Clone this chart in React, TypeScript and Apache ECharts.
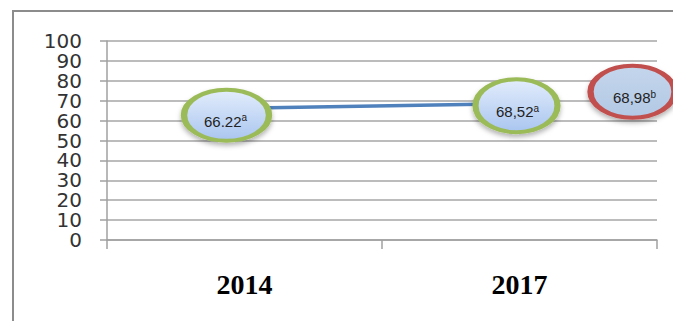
import React, { useEffect, useRef } from "react";
import * as echarts from "echarts";

// ---- data ----
const categories = ["2014", "2017"];
const values = [66.22, 68.52];
const valueTexts = ["66.22", "68,52"];
const valueLetters = ["a", "a"];
const extraCategory = "2017";
const extraValue = 68.98;
const extraText = "68,98";
const extraLetter = "b";
const yMin = 0;
const yMax = 100;
const yInterval = 10;

// ---- styling / layout ----
const ELLIPSE = "path://M0,50A50,50,0,1,1,100,50A50,50,0,1,1,0,50Z";
const SYMBOL_SIZES: [number, number][] = [
  [85, 51],
  [82, 53],
];
const SYMBOL_OFFSETS: [number, number][] = [
  [-18, 7],
  [-3, 2],
];
const LABEL_OFFSETS: [number, number][] = [
  [-1, 6],
  [1, 6],
];
const EXTRA_SIZE: [number, number] = [84, 52];
const EXTRA_OFFSET: [number, number] = [113, -11];
const EXTRA_LABEL_OFFSET: [number, number] = [2, 6];

const fillGradient = () =>
  new echarts.graphic.LinearGradient(0, 0, 0, 1, [
    { offset: 0, color: "#e3edfc" },
    { offset: 1, color: "#a9c5ef" },
  ]);

const redFill = () =>
  new echarts.graphic.LinearGradient(0, 0, 0, 1, [
    { offset: 0, color: "#c4d6ec" },
    { offset: 1, color: "#b2c8e4" },
  ]);

const rich = {
  v: {
    fontSize: 15,
    fontFamily: "Liberation Sans",
    color: "#222",
    lineHeight: 17,
  },
  s: {
    fontSize: 10,
    fontFamily: "Liberation Sans",
    color: "#222",
    verticalAlign: "top" as const,
  },
};

export default function App() {
  const ref = useRef<HTMLDivElement>(null);
  useEffect(() => {
    if (!ref.current) return;
    const chart = echarts.init(ref.current, undefined, { renderer: "svg" });
    chart.setOption({
      animation: false,
      backgroundColor: "#ffffff",
      grid: { left: 107, right: 16, top: 41, bottom: 81, containLabel: false },
      xAxis: {
        type: "category",
        data: categories,
        boundaryGap: true,
        axisLine: { show: true, lineStyle: { color: "#a0a0a0", width: 1.5 } },
        axisTick: { show: true, length: 9, lineStyle: { color: "#a0a0a0", width: 1.5 } },
        axisLabel: {
          fontFamily: "Liberation Serif",
          fontWeight: "bold",
          fontSize: 28,
          color: "#000",
          margin: 30,
        },
        splitLine: { show: false },
      },
      yAxis: {
        type: "value",
        min: yMin,
        max: yMax,
        interval: yInterval,
        axisLine: { show: true, lineStyle: { color: "#a0a0a0", width: 1.5 } },
        axisTick: { show: true, length: 7, lineStyle: { color: "#a0a0a0", width: 1.5 } },
        axisLabel: {
          fontFamily: "DejaVu Sans",
          fontSize: 20,
          lineHeight: 18,
          color: "#333",
          margin: 25,
        },
        splitLine: { show: true, lineStyle: { color: "#a6a6a6", width: 1.5 } },
      },
      graphic: [
        {
          type: "polyline",
          shape: { points: [[13, 321], [13, 11], [673, 11]] },
          style: { stroke: "#8c8c8c", lineWidth: 2, fill: "none" },
          silent: true,
        },
      ],
      series: [
        {
          type: "line",
          symbol: ELLIPSE,
          lineStyle: { color: "#4f81bd", width: 3.5 },
          itemStyle: {
            color: fillGradient(),
            borderColor: "#9bbb59",
            borderWidth: 5,
            shadowBlur: 5,
            shadowOffsetY: 3,
            shadowColor: "rgba(0,0,0,0.3)",
          },
          data: values.map((v, i) => ({
            value: v,
            symbolSize: SYMBOL_SIZES[i],
            symbolOffset: SYMBOL_OFFSETS[i],
            label: {
              show: true,
              position: "inside",
              offset: LABEL_OFFSETS[i],
              formatter: `{v|${valueTexts[i]}}{s|${valueLetters[i]}}`,
              rich,
            },
          })),
          emphasis: { disabled: true },
          markPoint: {
            symbol: ELLIPSE,
            symbolSize: EXTRA_SIZE,
            symbolOffset: EXTRA_OFFSET,
            itemStyle: {
              color: redFill(),
              borderColor: "#c0504d",
              borderWidth: 5,
              shadowBlur: 5,
              shadowOffsetY: 3,
              shadowColor: "rgba(0,0,0,0.3)",
            },
            label: {
              show: true,
              position: "inside",
              offset: EXTRA_LABEL_OFFSET,
              formatter: `{v|${extraText}}{s|${extraLetter}}`,
              rich,
            },
            data: [{ coord: [extraCategory, extraValue], value: extraValue }],
          },
        },
      ],
    });
    return () => chart.dispose();
  }, []);
  return (
    <div
      ref={ref}
      style={{ position: "fixed", left: 0, top: 0, width: 673, height: 321 }}
    />
  );
}
